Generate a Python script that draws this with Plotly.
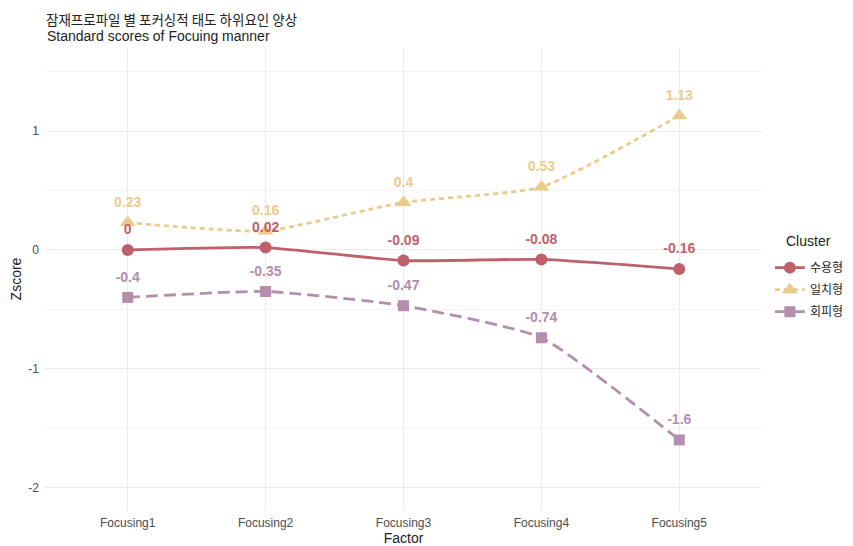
import plotly.graph_objects as go

factors = ["Focusing1", "Focusing2", "Focusing3", "Focusing4", "Focusing5"]
clusters = ["수용형", "일치형", "회피형"]
z_accept = [0.00, 0.02, -0.09, -0.08, -0.16]
z_match = [0.23, 0.16, 0.40, 0.53, 1.13]
z_avoid = [-0.40, -0.35, -0.47, -0.74, -1.60]
label_accept = ["0", "0.02", "-0.09", "-0.08", "-0.16"]
label_match = ["0.23", "0.16", "0.4", "0.53", "1.13"]
label_avoid = ["-0.4", "-0.35", "-0.47", "-0.74", "-1.6"]

series = [
    (clusters[0], z_accept, label_accept, "#BF616A", "solid", "circle", 12),
    (clusters[1], z_match, label_match, "#EBCB8B", "5px,4px", "triangle-up", 14),
    (clusters[2], z_avoid, label_avoid, "#B48EAD", "12px,6px", "square", 11),
]

FONT = "Liberation Sans, Arial, Noto Sans CJK KR, sans-serif"
fig = go.Figure()
xi = list(range(len(factors)))
for name, vals, labs, col, dash, sym, ms in series:
    fig.add_trace(go.Scatter(
        x=xi, y=vals, mode="lines+markers", name=name, legendgroup=name,
        line=dict(color=col, width=2.8, dash=dash, shape="spline", smoothing=0.5),
        marker=dict(symbol=sym, size=ms, color=col),
    ))
for name, vals, labs, col, dash, sym, ms in series:
    fig.add_trace(go.Scatter(
        x=xi, y=[v + 0.16 for v in vals], mode="text", text=labs,
        textfont=dict(color=col, size=14, family=FONT, weight="bold"),
        showlegend=False, hoverinfo="skip",
    ))

fig.update_layout(
    width=845, height=538,
    margin=dict(l=37, r=91, t=40, b=36, autoexpand=False),
    paper_bgcolor="white", plot_bgcolor="white",
    font=dict(family=FONT, color="#222222"),
    showlegend=True,
    legend=dict(
        font=dict(size=12, color="#222222"),
        x=1.011, xanchor="left", y=0.556, yanchor="top",
        itemwidth=30, traceorder="grouped", tracegroupgap=3,
    ),
    xaxis=dict(
        tickmode="array", tickvals=xi, ticktext=factors, automargin=False,
        range=[-0.6, 4.6], showgrid=True, gridcolor="#EBEBEB", gridwidth=1,
        zeroline=False, showline=False, ticks="", ticklabelstandoff=4,
        tickfont=dict(size=12, color="#4D4D4D"),
        title=dict(text="Factor", font=dict(size=14, color="#222222"), standoff=3),
    ),
    yaxis=dict(
        range=[-2.19, 1.70], tickvals=[-2, -1, 0, 1], ticktext=["-2", "-1", "0", "1"],
        automargin=False, ticklabelstandoff=5,
        showgrid=True, gridcolor="#EBEBEB", gridwidth=1,
        minor=dict(tickvals=[-1.5, -0.5, 0.5, 1.5], showgrid=True, gridcolor="#F3F3F3", gridwidth=1),
        zeroline=False, showline=False, ticks="",
        tickfont=dict(size=12, color="#4D4D4D"),
        title=dict(text="Zscore", font=dict(size=14, color="#222222"), standoff=8),
    ),
    annotations=[
        dict(text="잠재프로파일 별 포커싱적 태도 하위요인 양상", xref="paper", yref="paper",
             x=0, y=1, xshift=0, yshift=40, xanchor="left", yanchor="top", showarrow=False,
             borderpad=0,
             font=dict(size=13.5, color="#222222", family="Noto Sans CJK KR, sans-serif")),
        dict(text="Standard scores of Focuing manner", xref="paper", yref="paper",
             x=0, y=1, yshift=12, xanchor="left", yanchor="middle", showarrow=False,
             font=dict(size=14, color="#222222")),
        dict(text="Cluster", xref="paper", yref="paper",
             x=1.031, y=0.582, xanchor="left", yanchor="middle", showarrow=False,
             font=dict(size=14, color="#222222")),
    ],
)

fig.write_html("out.html")
